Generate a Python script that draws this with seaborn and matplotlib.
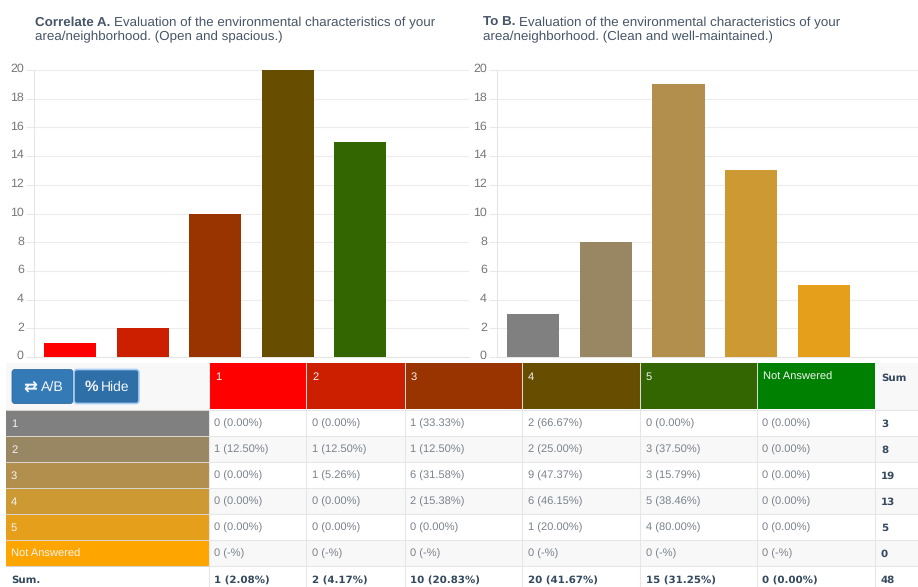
import matplotlib
matplotlib.use("Agg")
import matplotlib.pyplot as plt
from matplotlib.patches import Rectangle, FancyBboxPatch
from matplotlib.transforms import ScaledTranslation
import seaborn as sns
import pandas as pd

sns.set_theme(style="white")
plt.rcParams['font.family'] = ['Liberation Sans', 'DejaVu Sans']
plt.rcParams['text.hinting'] = 'no_hinting'

categories = ["1", "2", "3", "4", "5", "Not Answered"]
values_a = [1, 2, 10, 20, 15, 0]
values_b = [3, 8, 19, 13, 5, 0]
colors_a = ["#ff0000", "#cc1f00", "#993300", "#664d00", "#336600", "#008000"]
colors_b = ["#808080", "#998662", "#b38f4d", "#cc9933", "#e69f1a", "#ffa500"]
title_a_bold = "Correlate A."
title_a_1 = "Evaluation of the environmental characteristics of your"
title_a_2 = "area/neighborhood. (Open and spacious.)"
title_b_bold = "To B."
title_b_1 = "Evaluation of the environmental characteristics of your"
title_b_2 = "area/neighborhood. (Clean and well-maintained.)"
y_ticks = list(range(0, 21, 2))

col_headers = ["1", "2", "3", "4", "5", "Not Answered", "Sum"]
row_headers = ["1", "2", "3", "4", "5", "Not Answered", "Sum."]
cells = [
    ["0 (0.00%)", "0 (0.00%)", "1 (33.33%)", "2 (66.67%)", "0 (0.00%)", "0 (0.00%)", "3"],
    ["1 (12.50%)", "1 (12.50%)", "1 (12.50%)", "2 (25.00%)", "3 (37.50%)", "0 (0.00%)", "8"],
    ["0 (0.00%)", "1 (5.26%)", "6 (31.58%)", "9 (47.37%)", "3 (15.79%)", "0 (0.00%)", "19"],
    ["0 (0.00%)", "0 (0.00%)", "2 (15.38%)", "6 (46.15%)", "5 (38.46%)", "0 (0.00%)", "13"],
    ["0 (0.00%)", "0 (0.00%)", "0 (0.00%)", "1 (20.00%)", "4 (80.00%)", "0 (0.00%)", "5"],
    ["0 (-%)", "0 (-%)", "0 (-%)", "0 (-%)", "0 (-%)", "0 (-%)", "0"],
    ["1 (2.08%)", "2 (4.17%)", "10 (20.83%)", "20 (41.67%)", "15 (31.25%)", "0 (0.00%)", "48"],
]

W, H = 918, 587
fig = plt.figure(figsize=(W / 100, H / 100), dpi=100, facecolor="white")


def px_axes(x0, y0, x1, y1, **kw):
    return fig.add_axes([x0 / W, 1 - y1 / H, (x1 - x0) / W, (y1 - y0) / H], **kw)


def bar_panel(rect, vals, cols, xmax):
    ax = px_axes(*rect)
    df = pd.DataFrame({"cat": categories, "val": vals})
    sns.barplot(data=df, x="cat", y="val", hue="cat", order=categories, hue_order=categories,
                palette=cols, width=0.72, legend=False, dodge=False, saturation=1, ax=ax, zorder=3)
    ax.set_xlim(-0.5, xmax)
    ax.set_ylim(0, 20)
    ax.set_yticks(y_ticks)
    ax.set_xticks([])
    ax.set_xlabel("")
    ax.set_ylabel("")
    ax.set_axisbelow(True)
    ax.grid(axis="y", color="#ececec", lw=0.75)
    for s in ["top", "right"]:
        ax.spines[s].set_visible(False)
    for s in ["left", "bottom"]:
        ax.spines[s].set_color("#e4e4e4")
        ax.spines[s].set_linewidth(0.75)
    ax.tick_params(axis="y", length=5.8, width=0.75, color="#e8e8e8", labelsize=8.9,
                   labelcolor="#777777", pad=1.5, left=True)
    shift = ScaledTranslation(0, 2 / 100, fig.dpi_scale_trans)
    for lab in ax.get_yticklabels():
        lab.set_transform(lab.get_transform() + shift)
    for p in ax.patches:
        p.set_edgecolor("none")
    return ax


bar_panel((34, 70, 469, 357), values_a, colors_a, 5.5)
bar_panel((497, 70, 918, 357), values_b, colors_b, 5.3)

ov = fig.add_axes([0, 0, 1, 1], facecolor="none")
ov.set_xlim(0, W)
ov.set_ylim(H, 0)
ov.axis("off")

TITLE = "#465567"
fs_title = 9.6
for x, bold, l1, l2 in [(35, title_a_bold, title_a_1, title_a_2), (483, title_b_bold, title_b_1, title_b_2)]:
    t = ov.text(x, 26, bold, fontsize=fs_title, fontweight="bold", color=TITLE, va="baseline", ha="left")
    fig.canvas.draw()
    bb = t.get_window_extent()
    ov.text(bb.x1 + 3.5, 26, l1, fontsize=fs_title, color=TITLE, va="baseline", ha="left")
    ov.text(x, 40.5, l2, fontsize=fs_title, color=TITLE, va="baseline", ha="left")

col_edges = [209, 306, 405, 522, 640, 757, 875, 918]
row_edges = [410, 436, 462, 488, 514, 540, 566, 592]
LINE = "#e4e6e8"
TXT = "#7a828c"
DARK = "#34495e"
BOLD_FAMILY = ["DejaVu Sans"]
SEP = 0.75

ov.add_patch(Rectangle((6, 363), 203, 47, fc="#f8f8f8", ec="none"))
ov.add_patch(Rectangle((875, 363), 43, 47, fc="#f8f8f8", ec="none"))

for i, h in enumerate(col_headers):
    x0, x1 = col_edges[i], col_edges[i + 1]
    if i < 6:
        ov.add_patch(Rectangle((x0, 363), x1 - x0, 46, fc=colors_a[i], ec="none"))
        if i:
            ov.plot([x0, x0], [363, 409], color="#d8d8d8", lw=SEP)
        ov.text(x0 + 6, 380, h, fontsize=8.0, color="#f4f4f4", va="baseline")
    else:
        ov.text(x0 + 6, 381, h, fontsize=7.4, color=DARK, fontweight="bold", va="baseline", family=BOLD_FAMILY)

for r, rh in enumerate(row_headers):
    y0, y1 = row_edges[r], row_edges[r + 1]
    if r % 2 == 1:
        ov.add_patch(Rectangle((209, y0), 709, y1 - y0, fc="#f8f8f8", ec="none"))
    if r < 6:
        ov.add_patch(Rectangle((6, y0), 203, y1 - y0, fc=colors_b[r], ec="none"))
        ov.text(11, y0 + 17, rh, fontsize=8.0, color="#f4f4f4", va="baseline")
    else:
        ov.text(11, 582.5, rh, fontsize=7.4, color=DARK, fontweight="bold", va="baseline", family=BOLD_FAMILY)
    for c, val in enumerate(cells[r]):
        ytxt = 582.5 if r == 6 else y0 + 17
        if r == 6 or c == 6:
            ov.text(col_edges[c] + (5.5 if c < 6 else 6), ytxt, val, fontsize=7.4, color=DARK,
                    fontweight="bold", va="baseline", family=BOLD_FAMILY)
        else:
            ov.text(col_edges[c] + 5.5, ytxt, val, fontsize=8.0, color=TXT, va="baseline")

for y in row_edges[:-1]:
    ov.plot([209, 918], [y, y], color=LINE, lw=SEP)
    ov.plot([6, 209], [y, y], color="#d8d4cc", lw=SEP)
for x in col_edges[:-1]:
    ov.plot([x, x], [410, 587], color=LINE, lw=SEP)
ov.plot([209, 209], [363, 587], color=LINE, lw=SEP)

ov.add_patch(FancyBboxPatch((12, 369.5), 61, 34, boxstyle="round,pad=0,rounding_size=3", fc="#337ab7", ec="#2e6da4", lw=0.6))
ov.add_patch(FancyBboxPatch((74, 369.5), 65, 34, boxstyle="round,pad=0,rounding_size=3", fc="#2f6fa8", ec="#a9cdf5", lw=1.2))
ov.text(30, 386.5, "\u21c4", fontsize=12, color="#f2f6fa", ha="center", va="center", fontweight="bold", family=["DejaVu Sans"])
ov.text(52, 387, "A/B", fontsize=10.2, color="#f2f6fa", ha="center", va="center")
ov.text(91, 387, "%", fontsize=11, color="#f2f6fa", ha="center", va="center", fontweight="bold")
ov.text(115, 387, "Hide", fontsize=10, color="#f2f6fa", ha="center", va="center")

fig.savefig("out.png", dpi=100)
